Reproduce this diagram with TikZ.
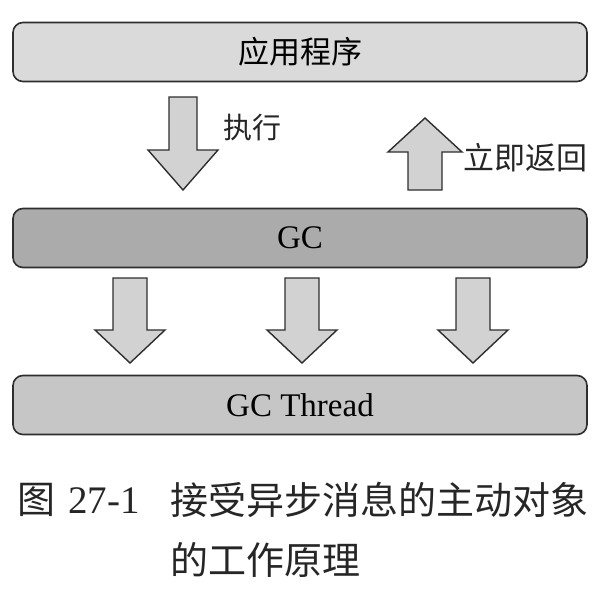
\documentclass[tikz,border=0pt]{standalone}
\usepackage{fontspec}
\setmainfont{Liberation Serif}
\newfontfamily\cjk{Noto Sans CJK SC}
\definecolor{boxline}{HTML}{2E2E2E}
\definecolor{appfill}{HTML}{DADADA}
\definecolor{gcfill}{HTML}{ABABAB}
\definecolor{thrfill}{HTML}{C6C6C6}
\definecolor{arrfill}{HTML}{D2D2D2}
\tikzset{
  box/.style={draw=boxline, line width=1.6pt, rounded corners=10pt,
    minimum width=574pt, minimum height=59pt, inner sep=0pt},
  blockarr/.style={draw=boxline, line width=1.4pt, fill=arrfill, line join=miter},
  lbl/.style={inner sep=0pt, text=black!85}
}
% #1 x centre, #2 tail y, #3 head base y, #4 tip y, #5 shaft half width, #6 head half width
\newcommand{\blockarrow}[6]{%
  \draw[blockarr] (#1-#5,#2) -- (#1+#5,#2) -- (#1+#5,#3) -- (#1+#6,#3) -- (#1,#4)
    -- (#1-#6,#3) -- (#1-#5,#3) -- cycle;}
\begin{document}
\begin{tikzpicture}[x=1pt,y=-1pt]
\useasboundingbox (0,0) rectangle (614,590);
% boxes
\node[box, fill=appfill] (app) at (300,52) {\fontsize{31pt}{31pt}\selectfont\cjk 应用程序};
\node[box, fill=gcfill] (gc) at (300,238) {\fontsize{33pt}{33pt}\selectfont GC};
\node[box, fill=thrfill] (thr) at (300,405) {\fontsize{33pt}{33pt}\selectfont GC Thread};
% arrows between application and GC
\blockarrow{183}{97}{150}{190}{14}{35}
\blockarrow{425}{190}{152}{118}{17}{37}
\node[lbl] (exec) at (252,128) {\fontsize{29pt}{29pt}\selectfont\cjk 执行};
\node[lbl] (ret) at (525,158) {\fontsize{31pt}{31pt}\selectfont\cjk 立即返回};
% arrows from GC to GC Thread
\blockarrow{130}{278}{330}{363}{17}{35}
\blockarrow{302}{278}{330}{363}{17}{35}
\blockarrow{473}{278}{330}{363}{17}{35}
% caption
\node[lbl, anchor=west] (figzh) at (17,500) {\fontsize{38pt}{38pt}\selectfont\cjk 图};
\node[lbl, anchor=west] (fignum) at (68,501) {\fontsize{39pt}{39pt}\selectfont 27-1};
\node[lbl, anchor=west] (cap1) at (170,500) {\fontsize{38pt}{38pt}\selectfont\cjk 接受异步消息的主动对象};
\node[lbl, anchor=west] (cap2) at (170,560) {\fontsize{38pt}{38pt}\selectfont\cjk 的工作原理};
\end{tikzpicture}
\end{document}
